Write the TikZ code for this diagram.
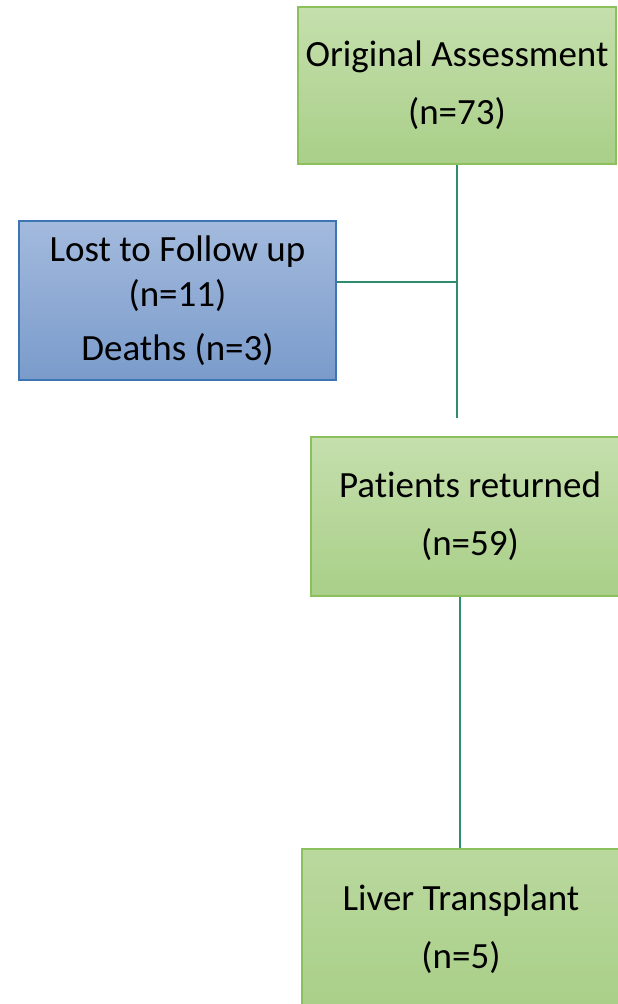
\documentclass[tikz,border=0pt]{standalone}
\usepackage{fontspec}
\setmainfont[Ligatures={NoCommon,NoContextual,NoRare},Contextuals={NoAlternate}]{Carlito}
\definecolor{gtop}{HTML}{C5DFAD}
\definecolor{gbot}{HTML}{A9CF88}
\definecolor{gline}{HTML}{8CC05C}
\definecolor{btop}{HTML}{A3BADD}
\definecolor{bbot}{HTML}{7A9BCB}
\definecolor{bline}{HTML}{3C74B4}
\definecolor{conn}{HTML}{2F8C6E}
\begin{document}
\begin{tikzpicture}[x=1pt,y=-1pt,
  greenbox/.style={draw=gline,line width=1.3pt,top color=gtop,bottom color=gbot,
    inner sep=0pt,align=center,font=\fontsize{37}{58}\selectfont},
  bluebox/.style={draw=bline,line width=1.3pt,top color=btop,bottom color=bbot,
    inner sep=0pt,align=center,font=\fontsize{37}{45}\selectfont},
  conline/.style={draw=conn,line width=1.4pt}]
\useasboundingbox (0,0) rectangle (618,1004);
\clip (0,0) rectangle (618,1004);
\node[greenbox,minimum width=318pt,minimum height=157pt] (orig) at (457,85.5)
  {Original Assessment\\(n=73)};
\node[bluebox,minimum width=317pt,minimum height=159pt] (lost) at (177.5,300.5)
  {Lost to Follow up\\(n=11)\\[9pt]Deaths (n=3)};
\node[greenbox,minimum width=318pt,minimum height=159pt] (ret) at (470,516.5)
  {Pat\kern0pt ients returned\\(n=59)};
\node[greenbox,minimum width=318pt,minimum height=160pt,top color=gtop!60!gbot] (liver) at (461,929)
  {Liver Transplant\\(n=5)};
\coordinate (end) at (457,418);
\coordinate (j) at (457,282);
\draw[conline] (orig.south) -- (end);
\draw[conline] (lost.east |- j) -- (j);
\draw[conline] (ret.south -| 460,0) -- (liver.north -| 460,0);
\end{tikzpicture}
\end{document}
